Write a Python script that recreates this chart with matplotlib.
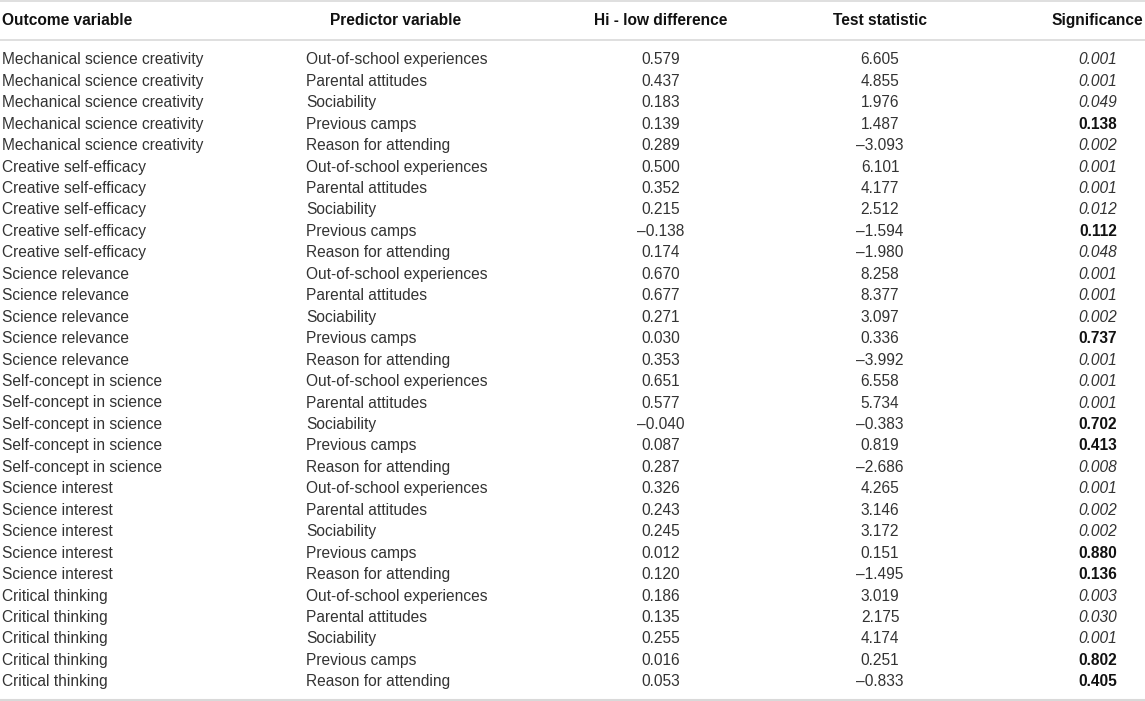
import matplotlib
matplotlib.use("Agg")
import matplotlib.pyplot as plt

outcomes = ["Mechanical science creativity", "Creative self-efficacy", "Science relevance",
            "Self-concept in science", "Science interest", "Critical thinking"]
predictors = ["Out-of-school experiences", "Parental attitudes", "Sociability",
              "Previous camps", "Reason for attending"]
hi_low = [0.579, 0.437, 0.183, 0.139, 0.289,
          0.500, 0.352, 0.215, -0.138, 0.174,
          0.670, 0.677, 0.271, 0.030, 0.353,
          0.651, 0.577, -0.040, 0.087, 0.287,
          0.326, 0.243, 0.245, 0.012, 0.120,
          0.186, 0.135, 0.255, 0.016, 0.053]
test_stat = [6.605, 4.855, 1.976, 1.487, -3.093,
             6.101, 4.177, 2.512, -1.594, -1.980,
             8.258, 8.377, 3.097, 0.336, -3.992,
             6.558, 5.734, -0.383, 0.819, -2.686,
             4.265, 3.146, 3.172, 0.151, -1.495,
             3.019, 2.175, 4.174, 0.251, -0.833]
significance = [0.001, 0.001, 0.049, 0.138, 0.002,
                0.001, 0.001, 0.012, 0.112, 0.048,
                0.001, 0.001, 0.002, 0.737, 0.001,
                0.001, 0.001, 0.702, 0.413, 0.008,
                0.001, 0.002, 0.002, 0.880, 0.136,
                0.003, 0.030, 0.001, 0.802, 0.405]
headers = ["Outcome variable", "Predictor variable", "Hi - low difference",
           "Test statistic", "Significance"]

plt.rcParams['font.family'] = ['Liberation Sans', 'DejaVu Sans']
W, H = 1145, 701
fig = plt.figure(figsize=(W / 100, H / 100), dpi=100)
ax = fig.add_axes([0, 0, 1, 1])
ax.set_xlim(0, W)
ax.set_ylim(H, 0)
ax.axis('off')

fs = 11.2
txt = '#333333'

def fmt(v):
    s = f"{abs(v):.3f}"
    return ("\u2013" + s) if v < 0 else s

# rules
for y, lw in [(0.8, 1.2), (39.5, 1.2), (699.8, 1.5)]:
    ax.plot([0, W], [y, y], color='#d9d9d9', lw=lw, solid_capstyle='butt')

# headers
hy = 20.5
hc = '#111111'
ax.text(2, hy, headers[0], ha='left', va='center', fontsize=fs, fontweight='bold', color=hc)
ax.text(396, hy, headers[1], ha='center', va='center', fontsize=fs, fontweight='bold', color=hc)
ax.text(661, hy, headers[2], ha='center', va='center', fontsize=fs, fontweight='bold', color=hc)
ax.text(880, hy, headers[3], ha='center', va='center', fontsize=fs, fontweight='bold', color=hc)
ax.text(1143, hy, headers[4], ha='right', va='center', fontsize=fs, fontweight='bold', color=hc)

y0, dy = 59.8, 21.45
i = 0
for o in outcomes:
    for p in predictors:
        y = y0 + i * dy
        ax.text(2, y, o, ha='left', va='center', fontsize=fs, color=txt)
        ax.text(306, y, p, ha='left', va='center', fontsize=fs, color=txt)
        ax.text(661, y, fmt(hi_low[i]), ha='center', va='center', fontsize=fs, color=txt)
        ax.text(880, y, fmt(test_stat[i]), ha='center', va='center', fontsize=fs, color=txt)
        sig = significance[i]
        if sig > 0.05:
            ax.text(1117, y, f"{sig:.3f}", ha='right', va='center', fontsize=fs,
                    fontweight='bold', color=hc)
        else:
            ax.text(1117, y, f"{sig:.3f}", ha='right', va='center', fontsize=fs,
                    fontstyle='italic', color=txt)
        i += 1

fig.savefig('out.png', dpi=100)
